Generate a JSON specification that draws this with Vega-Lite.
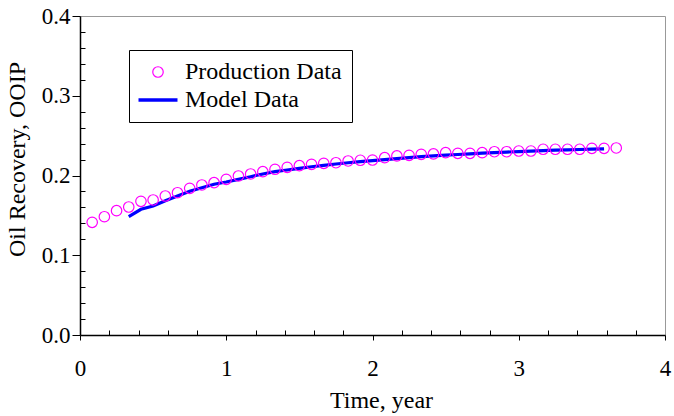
{
  "$schema": "https://vega.github.io/schema/vega-lite/v6.json",
  "width": 585,
  "height": 319,
  "autosize": {"type": "none"},
  "padding": {"left": 80, "top": 16, "right": 9, "bottom": 81},
  "background": "white",
  "config": {
    "font": "Liberation Serif",
    "view": {"stroke": "#999999", "strokeWidth": 1}
  },
  "datasets": {
    "prod": [
      {"t": 0.0833, "r": 0.1413}, {"t": 0.1667, "r": 0.1483}, {"t": 0.25, "r": 0.1559}, {"t": 0.3333, "r": 0.1605},
      {"t": 0.4167, "r": 0.1676}, {"t": 0.5, "r": 0.1693}, {"t": 0.5833, "r": 0.1743}, {"t": 0.6667, "r": 0.1784},
      {"t": 0.75, "r": 0.1839}, {"t": 0.8333, "r": 0.1881}, {"t": 0.9167, "r": 0.191}, {"t": 1.0, "r": 0.1952},
      {"t": 1.0833, "r": 0.1994}, {"t": 1.1667, "r": 0.2019}, {"t": 1.25, "r": 0.2048}, {"t": 1.3333, "r": 0.2078},
      {"t": 1.4167, "r": 0.2103}, {"t": 1.5, "r": 0.2123}, {"t": 1.5833, "r": 0.214}, {"t": 1.6667, "r": 0.2153},
      {"t": 1.75, "r": 0.216}, {"t": 1.8333, "r": 0.2182}, {"t": 1.9167, "r": 0.2191}, {"t": 2.0, "r": 0.2194},
      {"t": 2.0833, "r": 0.2223}, {"t": 2.1667, "r": 0.2245}, {"t": 2.25, "r": 0.2253}, {"t": 2.3333, "r": 0.2266},
      {"t": 2.4167, "r": 0.227}, {"t": 2.5, "r": 0.2286}, {"t": 2.5833, "r": 0.2278}, {"t": 2.6667, "r": 0.2278},
      {"t": 2.75, "r": 0.2286}, {"t": 2.8333, "r": 0.2298}, {"t": 2.9167, "r": 0.2298}, {"t": 3.0, "r": 0.2307},
      {"t": 3.0833, "r": 0.2307}, {"t": 3.1667, "r": 0.2329}, {"t": 3.25, "r": 0.2329}, {"t": 3.3333, "r": 0.2329},
      {"t": 3.4167, "r": 0.2329}, {"t": 3.5, "r": 0.2341}, {"t": 3.5833, "r": 0.2341}, {"t": 3.6667, "r": 0.2345}
    ],
    "model": [
      {"t": 0.3333, "r": 0.1483}, {"t": 0.4167, "r": 0.1576}, {"t": 0.5, "r": 0.1618}, {"t": 0.5833, "r": 0.1684},
      {"t": 0.6667, "r": 0.1743}, {"t": 0.75, "r": 0.1802}, {"t": 0.8333, "r": 0.1847}, {"t": 0.9167, "r": 0.189},
      {"t": 1.0, "r": 0.1918}, {"t": 1.0833, "r": 0.1952}, {"t": 1.1667, "r": 0.1985}, {"t": 1.25, "r": 0.2019},
      {"t": 1.3333, "r": 0.2048}, {"t": 1.4167, "r": 0.2069}, {"t": 1.5, "r": 0.209}, {"t": 1.5833, "r": 0.211},
      {"t": 1.6667, "r": 0.2128}, {"t": 1.75, "r": 0.2144}, {"t": 1.8333, "r": 0.216}, {"t": 1.9167, "r": 0.2173},
      {"t": 2.0, "r": 0.2186}, {"t": 2.0833, "r": 0.2198}, {"t": 2.1667, "r": 0.2211}, {"t": 2.25, "r": 0.2223},
      {"t": 2.3333, "r": 0.2236}, {"t": 2.4167, "r": 0.2245}, {"t": 2.5, "r": 0.2255}, {"t": 2.5833, "r": 0.2263},
      {"t": 2.6667, "r": 0.2272}, {"t": 2.75, "r": 0.228}, {"t": 2.8333, "r": 0.2287}, {"t": 2.9167, "r": 0.2294},
      {"t": 3.0, "r": 0.23}, {"t": 3.0833, "r": 0.2306}, {"t": 3.1667, "r": 0.2312}, {"t": 3.25, "r": 0.2317},
      {"t": 3.3333, "r": 0.2322}, {"t": 3.4167, "r": 0.2326}, {"t": 3.5, "r": 0.233}, {"t": 3.5833, "r": 0.2334}
    ]
  },
  "encoding": {
    "x": {
      "field": "t",
      "type": "quantitative",
      "scale": {"domain": [0, 4], "nice": false, "zero": false},
      "axis": {
        "title": "Time, year",
        "grid": false,
        "domainColor": "black",
        "domainWidth": 1.5,
        "tickColor": "black",
        "labelColor": "black",
        "titleColor": "black",
        "labelFont": "Liberation Serif",
        "titleFont": "Liberation Serif",
        "labelFontSize": 23,
        "titleFontSize": 24,
        "titleFontWeight": "normal",
        "titleX": 301,
        "values": [0, 0.2, 0.4, 0.6, 0.8, 1, 1.2, 1.4, 1.6, 1.8, 2, 2.2, 2.4, 2.6, 2.8, 3, 3.2, 3.4, 3.6, 3.8, 4],
        "labelExpr": "abs(datum.value - round(datum.value)) < 0.001 ? format(datum.value, 'd') : ''",
        "tickSize": {"condition": {"test": "abs(datum.value - round(datum.value)) < 0.001", "value": 5}, "value": -5},
        "labelPadding": 17,
        "titlePadding": 8,
        "labelFlush": false,
        "labelOverlap": false
      }
    },
    "y": {
      "field": "r",
      "type": "quantitative",
      "scale": {"domain": [0, 0.4], "nice": false, "zero": false},
      "axis": {
        "title": "Oil Recovery, OOIP",
        "grid": false,
        "domainColor": "black",
        "domainWidth": 1.5,
        "tickColor": "black",
        "labelColor": "black",
        "titleColor": "black",
        "labelFont": "Liberation Serif",
        "titleFont": "Liberation Serif",
        "labelFontSize": 23,
        "titleFontSize": 24,
        "titleFontWeight": "normal",
        "titleY": 143,
        "values": [0, 0.02, 0.04, 0.06, 0.08, 0.1, 0.12, 0.14, 0.16, 0.18, 0.2, 0.22, 0.24, 0.26, 0.28, 0.3, 0.32, 0.34, 0.36, 0.38, 0.4],
        "labelExpr": "abs(datum.value * 10 - round(datum.value * 10)) < 0.001 ? format(datum.value, '.1f') : ''",
        "tickSize": {"condition": {"test": "abs(datum.value * 10 - round(datum.value * 10)) < 0.001", "value": 8}, "value": -5},
        "labelPadding": 2,
        "titlePadding": 12,
        "labelFlush": false,
        "labelOverlap": false
      }
    }
  },
  "layer": [
    {
      "data": {"name": "model"},
      "mark": {"type": "line", "strokeWidth": 3.2},
      "encoding": {
        "color": {"datum": "Model Data", "type": "nominal",
          "scale": {"domain": ["Production Data", "Model Data"], "range": ["#ff00ff", "#0000ff"]}}
      }
    },
    {
      "data": {"name": "prod"},
      "mark": {"type": "point", "filled": false, "opacity": 1},
      "encoding": {
        "color": {"datum": "Production Data", "type": "nominal",
          "scale": {"domain": ["Production Data", "Model Data"], "range": ["#ff00ff", "#0000ff"]},
          "legend": {"title": null, "orient": "none", "legendX": 49, "legendY": 34, "strokeColor": "black", "fillColor": "white", "padding": 10, "symbolOffset": 7, "labelOffset": 15, "rowPadding": 4, "labelFont": "Liberation Serif", "labelFontSize": 24, "labelColor": "black"}},
        "shape": {"datum": "Production Data", "type": "nominal",
          "scale": {"domain": ["Production Data", "Model Data"], "range": ["circle", "M-2,0H2"]},
          "legend": {"title": null, "orient": "none", "legendX": 49, "legendY": 34, "strokeColor": "black", "fillColor": "white", "padding": 10, "symbolOffset": 7, "labelOffset": 15, "rowPadding": 4, "labelFont": "Liberation Serif", "labelFontSize": 24, "labelColor": "black"}},
        "size": {"datum": "Production Data", "type": "ordinal",
          "scale": {"domain": ["Production Data", "Model Data"], "range": [110, 380]},
          "legend": {"title": null, "orient": "none", "legendX": 49, "legendY": 34, "strokeColor": "black", "fillColor": "white", "padding": 10, "symbolOffset": 7, "labelOffset": 15, "rowPadding": 4, "labelFont": "Liberation Serif", "labelFontSize": 24, "labelColor": "black"}},
        "strokeWidth": {"datum": "Production Data", "type": "ordinal",
          "scale": {"domain": ["Production Data", "Model Data"], "range": [1.2, 3.5]},
          "legend": {"title": null, "orient": "none", "legendX": 49, "legendY": 34, "strokeColor": "black", "fillColor": "white", "padding": 10, "symbolOffset": 7, "labelOffset": 15, "rowPadding": 4, "labelFont": "Liberation Serif", "labelFontSize": 24, "labelColor": "black"}}
      }
    }
  ]
}
